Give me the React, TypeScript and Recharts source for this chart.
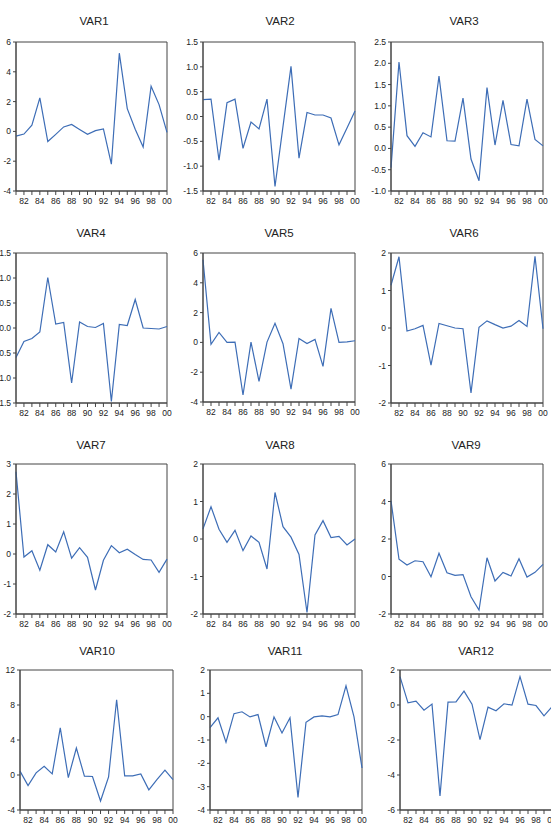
import React from 'react';
import { LineChart, Line, XAxis, YAxis, ReferenceArea } from 'recharts';

// Annual observations, 1981–2000
const years = [
  1981, 1982, 1983, 1984, 1985, 1986, 1987, 1988, 1989, 1990,
  1991, 1992, 1993, 1994, 1995, 1996, 1997, 1998, 1999, 2000,
];

const var1 = [-0.32, -0.18, 0.42, 2.25, -0.68, -0.2, 0.3, 0.47, 0.13, -0.2, 0.05, 0.17, -2.2, 5.25, 1.53, 0.15, -1.05, 3.03, 1.8, -0.07];
const var2 = [0.34, 0.35, -0.88, 0.28, 0.35, -0.64, -0.11, -0.25, 0.35, -1.41, -0.2, 1.01, -0.84, 0.08, 0.03, 0.03, -0.03, -0.57, -0.23, 0.11];
const var3 = [-0.45, 2.03, 0.3, 0.05, 0.37, 0.27, 1.7, 0.18, 0.17, 1.18, -0.25, -0.76, 1.43, 0.08, 1.13, 0.09, 0.06, 1.16, 0.21, 0.06];
const var4 = [-0.59, -0.27, -0.21, -0.08, 1.01, 0.08, 0.11, -1.1, 0.12, 0.03, 0.01, 0.09, -1.47, 0.07, 0.05, 0.57, 0.0, -0.01, -0.02, 0.03];
const var5 = [5.55, -0.13, 0.67, 0.0, 0.02, -3.53, 0.02, -2.62, 0.02, 1.28, -0.09, -3.13, 0.27, -0.07, 0.2, -1.61, 2.28, 0.0, 0.03, 0.11];
const var6 = [1.14, 1.9, -0.08, -0.02, 0.07, -0.99, 0.12, 0.06, 0.0, -0.02, -1.73, 0.02, 0.19, 0.09, 0.0, 0.05, 0.2, 0.04, 1.91, -0.02];
const var7 = [2.74, -0.1, 0.11, -0.54, 0.31, 0.07, 0.74, -0.14, 0.21, -0.11, -1.2, -0.21, 0.28, 0.04, 0.16, -0.02, -0.18, -0.2, -0.61, -0.17];
const var8 = [0.27, 0.86, 0.26, -0.09, 0.23, -0.31, 0.08, -0.09, -0.8, 1.24, 0.33, 0.05, -0.41, -1.96, 0.11, 0.49, 0.04, 0.07, -0.16, 0.0];
const var9 = [4.04, 0.92, 0.61, 0.84, 0.79, -0.01, 1.24, 0.2, 0.06, 0.1, -1.08, -1.79, 1.0, -0.24, 0.22, 0.03, 0.95, -0.03, 0.22, 0.65];
const var10 = [0.44, -1.2, 0.25, 1.0, 0.13, 5.38, -0.29, 3.08, -0.13, -0.17, -2.97, -0.21, 8.6, -0.1, -0.1, 0.13, -1.7, -0.52, 0.56, -0.52];
const var11 = [-0.47, -0.05, -1.09, 0.13, 0.21, -0.01, 0.09, -1.29, -0.01, -0.7, -0.05, -3.46, -0.24, -0.01, 0.03, -0.01, 0.09, 1.32, -0.01, -2.2];
const var12 = [1.62, 0.12, 0.22, -0.3, 0.05, -5.2, 0.16, 0.18, 0.79, 0.05, -1.98, -0.12, -0.33, 0.07, -0.01, 1.62, 0.05, -0.03, -0.62, -0.1];

// Y-axis tick values per panel
const ticks1 = [-4, -2, 0, 2, 4, 6];
const ticks2 = [-1.5, -1.0, -0.5, 0.0, 0.5, 1.0, 1.5];
const ticks3 = [-1.0, -0.5, 0.0, 0.5, 1.0, 1.5, 2.0, 2.5];
const ticks4 = [-1.5, -1.0, -0.5, 0.0, 0.5, 1.0, 1.5];
const ticks5 = [-4, -2, 0, 2, 4, 6];
const ticks6 = [-2, -1, 0, 1, 2];
const ticks7 = [-2, -1, 0, 1, 2, 3];
const ticks8 = [-2, -1, 0, 1, 2];
const ticks9 = [-2, 0, 2, 4, 6];
const ticks10 = [-4, 0, 4, 8, 12];
const ticks11 = [-4, -3, -2, -1, 0, 1, 2];
const ticks12 = [-6, -4, -2, 0, 2];

const titles = ['VAR1', 'VAR2', 'VAR3', 'VAR4', 'VAR5', 'VAR6', 'VAR7', 'VAR8', 'VAR9', 'VAR10', 'VAR11', 'VAR12'];
const seriesList = [var1, var2, var3, var4, var5, var6, var7, var8, var9, var10, var11, var12];
const tickList = [ticks1, ticks2, ticks3, ticks4, ticks5, ticks6, ticks7, ticks8, ticks9, ticks10, ticks11, ticks12];
const decimalList = [0, 1, 1, 1, 0, 0, 0, 0, 0, 0, 0, 0];

// Plot-box placement: [left, top, width, height], title centre: [x, y]
const layout: { box: [number, number, number, number]; title: [number, number] }[] = [
  { box: [16, 42, 151, 149], title: [94, 21] },
  { box: [203, 42, 152, 149], title: [280, 21] },
  { box: [391, 42, 152, 149], title: [464, 21] },
  { box: [16, 253, 151, 150], title: [91, 233] },
  { box: [203, 253, 152, 149], title: [279, 233] },
  { box: [391, 253, 152, 150], title: [464, 233] },
  { box: [16, 464, 151, 150], title: [91, 445] },
  { box: [203, 464, 152, 150], title: [280, 445] },
  { box: [391, 464, 152, 150], title: [466, 445] },
  { box: [20, 670, 153, 140], title: [97, 651] },
  { box: [210, 670, 152, 140], title: [285, 651] },
  { box: [400, 670, 152, 140], title: [476, 651] },
];

const PAD_L = 40;
const PAD_R = 6;
const PAD_T = 6;
const PAD_B = 24;

const LINE_COLOR = '#3d6db6';
const FRAME_COLOR = '#444';
const FONT = '"Liberation Sans", Arial, sans-serif';
const tickStyle = { fontSize: 8.5, fill: '#222', fontFamily: FONT };

const yearLabel = (y: number) => (y % 2 === 0 ? String(y % 100).padStart(2, '0') : '');

function Panel({ index }: { index: number }) {
  const [left, top, w, h] = layout[index].box;
  const [tx, ty] = layout[index].title;
  const values = seriesList[index];
  const ticks = tickList[index];
  const dec = decimalList[index];
  const data = years.map((year, i) => ({ year, value: values[i] }));
  const yMin = ticks[0];
  const yMax = ticks[ticks.length - 1];

  return (
    <>
      <div
        style={{
          position: 'absolute',
          left: tx - 40,
          top: ty - 8,
          width: 80,
          height: 16,
          lineHeight: '16px',
          textAlign: 'center',
          fontFamily: FONT,
          fontSize: 11.5,
          color: '#222',
        }}
      >
        {titles[index]}
      </div>
      <div style={{ position: 'absolute', left: left - PAD_L, top: top - PAD_T }}>
        <LineChart
          width={w + PAD_L + PAD_R}
          height={h + PAD_T + PAD_B}
          data={data}
          margin={{ top: PAD_T, right: PAD_R, bottom: 0, left: 0 }}
        >
          <XAxis
            dataKey="year"
            type="number"
            domain={[years[0], years[years.length - 1]]}
            ticks={years}
            interval={0}
            tickFormatter={yearLabel}
            height={PAD_B}
            tickSize={4}
            tickMargin={3}
            tick={tickStyle}
            axisLine={{ stroke: FRAME_COLOR }}
            tickLine={{ stroke: FRAME_COLOR }}
          />
          <YAxis
            type="number"
            domain={[yMin, yMax]}
            ticks={ticks}
            interval={0}
            width={PAD_L}
            tickSize={3}
            tickMargin={2}
            tick={tickStyle}
            tickFormatter={(v: number) => v.toFixed(dec)}
            axisLine={{ stroke: FRAME_COLOR }}
            tickLine={{ stroke: FRAME_COLOR }}
          />
          {/* box around the plotting area */}
          <ReferenceArea
            x1={years[0]}
            x2={years[years.length - 1]}
            y1={yMin}
            y2={yMax}
            fill="none"
            fillOpacity={0}
            stroke={FRAME_COLOR}
            strokeWidth={1}
          />
          <Line
            type="linear"
            dataKey="value"
            stroke={LINE_COLOR}
            strokeWidth={1.2}
            dot={false}
            isAnimationActive={false}
          />
        </LineChart>
      </div>
    </>
  );
}

export default function App() {
  return (
    <div
      style={{
        position: 'absolute',
        left: 0,
        top: 0,
        width: 551,
        height: 834,
        overflow: 'hidden',
        background: '#fff',
      }}
    >
      {titles.map((_, i) => (
        <Panel key={i} index={i} />
      ))}
    </div>
  );
}
